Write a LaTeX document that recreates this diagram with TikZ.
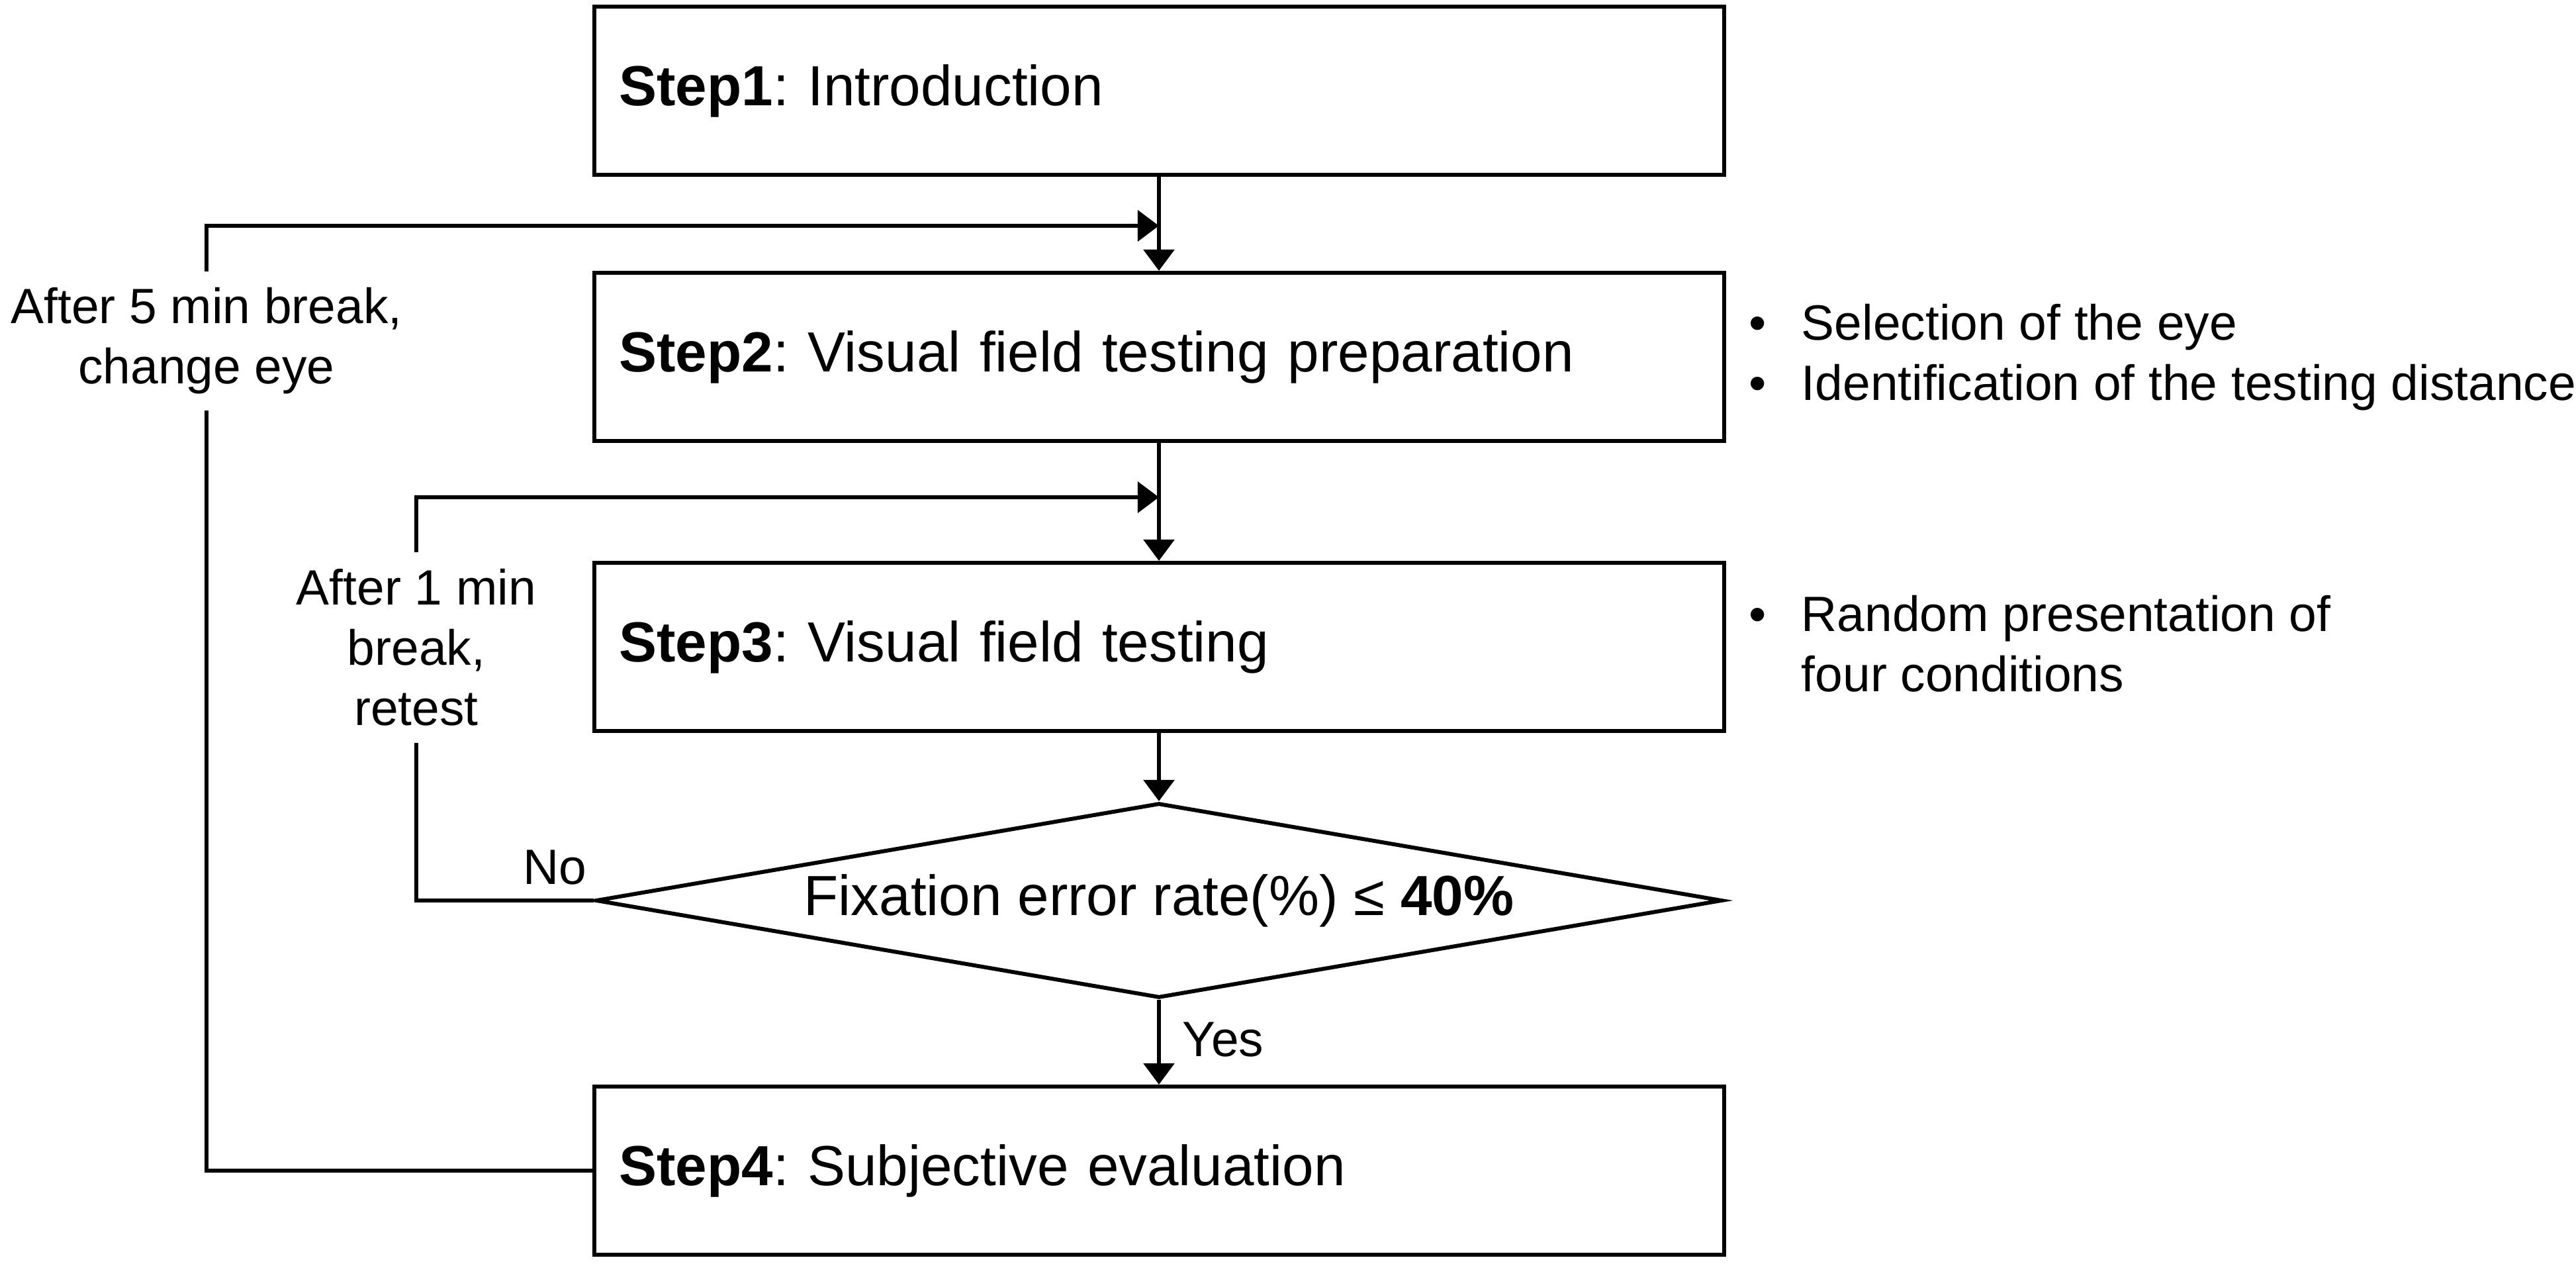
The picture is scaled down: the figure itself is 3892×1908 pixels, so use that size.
\documentclass[tikz,border=0pt]{standalone}
\usepackage{fontspec}
\setmainfont{Liberation Sans}
\usetikzlibrary{shapes.geometric,arrows.meta}
\frenchspacing

\begin{document}
\begin{tikzpicture}[x=0.01cm, y=-0.01cm]
\tikzstyle{every node} = [inner sep=0]
\tikzstyle{stepbox} = [draw, line width=1.7pt, minimum width=17.06cm, minimum height=2.54cm, text width=16.30cm, inner xsep=0.38cm, align=left, font=\fontsize{24.3}{29}\selectfont]
\tikzstyle{check} = [draw, diamond, aspect=5.8, line width=1.7pt, minimum width=17.01cm, minimum height=2.94cm, font=\fontsize{24.3}{29}\selectfont]
\tikzstyle{side} = [font=\fontsize{21.3}{25.9}\selectfont, align=center]
\tikzstyle{tip} = [-{Triangle[length=0.32cm, width=0.46cm]}]
\tikzstyle{edge} = [draw, line width=1.7pt, tip]
\tikzstyle{loopedge} = [draw, line width=1.9pt]
\useasboundingbox (0,0) rectangle (3892,1908);
\node[stepbox] (s1) at (1751,137) {\textbf{Step1}: Introduction};
\node[stepbox] (s2) at (1751,539) {\textbf{Step2}: Visual field testing preparation};
\node[stepbox] (s3) at (1751,977) {\textbf{Step3}: Visual field testing};
\node[check] (chk) at (1751,1360) {Fixation error rate(\%) ≤ \textbf{40\%}};
\node[stepbox] (s4) at (1751,1768) {\textbf{Step4}: Subjective evaluation};
\node[side, inner ysep=0.24cm] (brk5) at (312,515) {After 5 min break,\\change eye};
\node[side, inner ysep=0.25cm] (brk1) at (629,978) {After 1 min\\break,\\retest};
\node[side] (no) at (838,1310) {No};
\node[side] (yes) at (1848,1570) {Yes};
\node[side, anchor=west, align=left] (prep) at (2642,541) {\begin{tabular}{@{}l@{\hspace{0.53cm}}l@{}}•&Selection of the eye\\•&Identification of the testing distance\end{tabular}};
\node[side, anchor=west, align=left] (rand) at (2642,981) {\begin{tabular}{@{}l@{\hspace{0.53cm}}l@{}}•&Random presentation of\\&four conditions\end{tabular}};
\coordinate (in2) at (1751,341);
\coordinate (in3) at (1751,751);
\draw[edge] (s1) -- (s2);
\draw[edge] (s2) -- (s3);
\draw[edge] (s3) -- (chk);
\draw[edge] (chk) -- (s4);
% back to step 2 / step 3
\draw[loopedge] (s4.west) -| (brk5.south);
\draw[loopedge, tip] (brk5.north) |- (in2);
\draw[loopedge] (chk.west) -| (brk1.south);
\draw[loopedge, tip] (brk1.north) |- (in3);
\end{tikzpicture}
\end{document}
